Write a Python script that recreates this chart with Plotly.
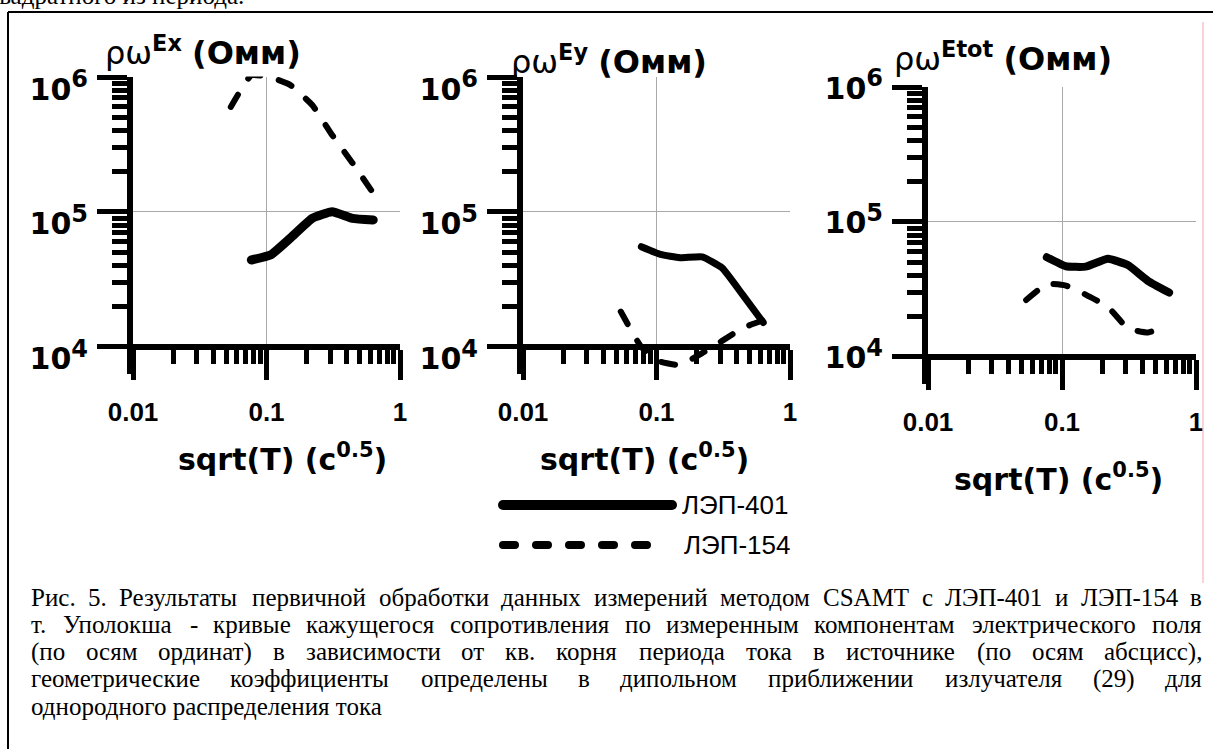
import glob
import struct
import plotly.graph_objects as go

# ---------------------------------------------------------------- data
# square root of the source period, c^0.5
SQRT_T = [0.054, 0.077, 0.107, 0.15, 0.22, 0.31, 0.44, 0.63]

# apparent resistivity, Ohm*m ; ЛЭП-401 curves start at the 2nd period
EX_401 = [44100, 48000, 63800, 89800, 100400, 89800, 87300]
EX_154 = [600000, 1030000, 995000, 875000, 620000, 372000, 231000, 138000]
EY_401 = [55300, 48500, 45800, 46500, 38500, 24500, 15200]
EY_154 = [18300, 10000, 7780, 7360, 9000, 11100, 13800, 15800]
ETOT_401 = [54800, 47000, 46700, 53500, 48000, 36500, 30000]
ETOT_154 = [26400, 34700, 33800, 29000, 23500, 16300, 15200, 17300]

SERIES_NAMES = ["ЛЭП-401", "ЛЭП-154"]
PANEL_TITLES = [
    "ρω<sup><b>Ex</b></sup> <b>(Омм)</b>",
    "ρω<sup><b>Ey</b></sup> <b>(Омм)</b>",
    "ρω<sup><b>Etot</b></sup> <b>(Омм)</b>",
]
X_TITLE = "<b>sqrt(T) (c<sup>0.5</sup>)</b>"

X_TICKS = [0.01, 0.1, 1]
X_TICK_TEXT = ["0.01", "0.1", "1"]
X_MINOR = [m * d for d in (0.01, 0.1) for m in range(2, 10)]
Y_TICKS = [1e4, 1e5, 1e6]
Y_TICK_TEXT = [
    '10<sup><span style="font-size:24px">4</span></sup>',
    '10<sup><span style="font-size:24px">5</span></sup>',
    '10<sup><span style="font-size:24px">6</span></sup>',
]
Y_MINOR = [m * d for d in (1e4, 1e5) for m in range(2, 10)]

CAPTION_LINES = [
    "Рис. 5. Результаты первичной обработки данных измерений методом CSAMT с ЛЭП-401 и ЛЭП-154 в",
    "т. Уполокша - кривые кажущегося сопротивления по измеренным компонентам электрического поля",
    "(по осям ординат) в зависимости от кв. корня периода тока в источнике (по осям абсцисс),",
    "геометрические коэффициенты определены в дипольном приближении излучателя (29) для",
    "однородного распределения тока",
]
PRECEDING_TEXT = "квадратного из периода."

# ---------------------------------------------------------------- layout
W, H = 1213, 749
SANS = "Liberation Sans, Arial, sans-serif"
WIDE = "DejaVu Sans, Verdana, sans-serif"
SERIF = "Liberation Serif, Times New Roman, serif"

# pixel frame of each panel: x of 0.01 and 1, y of 1e6 and 1e4
PANELS = [
    dict(x0=133, x1=400, ytop=77, ybot=347, tx=203, ty=51, xtx=282, xty=457,
         shift=12, solid=9),
    dict(x0=523, x1=790, ytop=77, ybot=347, tx=609, ty=60, xtx=644, xty=457,
         shift=12, solid=7),
    dict(x0=928, x1=1196, ytop=87, ybot=357, tx=1003, ty=57, xtx=1058, xty=477,
         shift=1, solid=8),
]
PANEL_DATA = [(EX_401, EX_154), (EY_401, EY_154), (ETOT_401, ETOT_154)]
Y_LOW, Y_PAD, X_PAD = 0.2, 0.003, 0.003


def px(x):
    return x / W


def py(y):
    return 1 - y / H


def load_font_widths(filename):
    hits = glob.glob("/usr/share/fonts/**/" + filename, recursive=True)
    if not hits:
        return None
    with open(hits[0], "rb") as fh:
        data = fh.read()

    def u16(o):
        return struct.unpack_from(">H", data, o)[0]

    tables = {}
    for i in range(u16(4)):
        rec = 12 + 16 * i
        tables[data[rec:rec + 4].decode("latin-1")] = struct.unpack_from(">I", data, rec + 8)[0]
    units = u16(tables["head"] + 18)
    n_hm = u16(tables["hhea"] + 34)
    advances = [u16(tables["hmtx"] + 4 * i) for i in range(n_hm)]
    cmap = tables["cmap"]
    sub = None
    for i in range(u16(cmap + 2)):
        pid, eid = u16(cmap + 4 + 8 * i), u16(cmap + 6 + 8 * i)
        off = struct.unpack_from(">I", data, cmap + 8 + 8 * i)[0]
        if pid == 3 and eid == 1 and u16(cmap + off) == 4:
            sub = cmap + off
    if sub is None:
        return None
    seg2 = u16(sub + 6)
    ends = sub + 14
    starts = ends + seg2 + 2
    deltas = starts + seg2
    ranges = deltas + seg2

    def glyph(code):
        for i in range(seg2 // 2):
            if code <= u16(ends + 2 * i):
                start = u16(starts + 2 * i)
                if code < start:
                    return 0
                delta = u16(deltas + 2 * i)
                ro = u16(ranges + 2 * i)
                if ro == 0:
                    return (code + delta) & 0xFFFF
                g = u16(ranges + 2 * i + ro + 2 * (code - start))
                return (g + delta) & 0xFFFF if g else 0
        return 0

    def width(text, size):
        return sum(advances[min(glyph(ord(c)), n_hm - 1)] for c in text) * size / units

    return width


def approx_width(text, size):
    total = 0.0
    for c in text:
        if c in " .,-()":
            total += 0.27
        elif c.isupper():
            total += 0.68
        else:
            total += 0.49
    return total * size


try:
    serif_width = load_font_widths("LiberationSerif-Regular.ttf") or approx_width
except Exception:
    serif_width = approx_width

fig = go.Figure()

solid_line = dict(color="black", shape="spline", smoothing=0.4)
dashed_line = dict(color="black", width=6, dash="14px,19px", shape="spline", smoothing=0.4)

for i, (p, (s401, s154)) in enumerate(zip(PANELS, PANEL_DATA)):
    k = "" if i == 0 else str(i + 1)
    xdec = (p["x1"] - p["x0"]) / 2
    ydec = (p["ybot"] - p["ytop"]) / 2
    fig.add_trace(go.Scatter(x=SQRT_T[1:], y=s401, mode="lines", name=SERIES_NAMES[0],
                             line=dict(solid_line, width=p["solid"]),
                             xaxis="x" + k, yaxis="y" + k, showlegend=False))
    fig.add_trace(go.Scatter(x=SQRT_T, y=s154, mode="lines", name=SERIES_NAMES[1],
                             line=dashed_line, xaxis="x" + k, yaxis="y" + k,
                             showlegend=False))
    fig.update_layout(**{
        "xaxis" + k: dict(
            type="log", range=[-2, X_PAD], automargin=False,
            domain=[px(p["x0"]), px(p["x1"] + X_PAD * xdec)],
            anchor="free", position=py(p["ybot"]),
            showline=True, linewidth=6, linecolor="black",
            ticks="outside", ticklen=30, tickwidth=5, tickcolor="black",
            tickmode="array", tickvals=X_TICKS, ticktext=X_TICK_TEXT,
            tickfont=dict(family=SANS, size=26, color="black", weight="bold"),
            ticklabelstandoff=10,
            showgrid=True, gridcolor="#a9a9a9", gridwidth=1, zeroline=False,
            minor=dict(tickmode="array", tickvals=X_MINOR, ticks="outside",
                       ticklen=14, tickwidth=5, tickcolor="black", showgrid=False),
        ),
        "yaxis" + k: dict(
            type="log", range=[4 - Y_LOW, 6 + Y_PAD], automargin=False,
            domain=[py(p["ybot"] + Y_LOW * ydec), py(p["ytop"] - Y_PAD * ydec)],
            anchor="x" + k,
            showline=True, linewidth=6, linecolor="black",
            ticks="outside", ticklen=30, tickwidth=5, tickcolor="black",
            tickmode="array", tickvals=Y_TICKS, ticktext=Y_TICK_TEXT,
            tickfont=dict(family=WIDE, size=30, color="black", weight="bold"),
            ticklabelstandoff=3, ticklabelshift=p["shift"],
            showgrid=True, gridcolor="#a9a9a9", gridwidth=1, zeroline=False,
            minor=dict(tickmode="array", tickvals=Y_MINOR, ticks="outside",
                       ticklen=15, tickwidth=5, tickcolor="black", showgrid=False),
        ),
    })
    fig.add_annotation(text=PANEL_TITLES[i], x=px(p["tx"]), y=py(p["ty"]),
                       xref="paper", yref="paper", xanchor="center", yanchor="middle",
                       showarrow=False, font=dict(family=WIDE, size=32, color="black"))
    fig.add_annotation(text=X_TITLE, x=px(p["xtx"]), y=py(p["xty"]),
                       xref="paper", yref="paper", xanchor="center", yanchor="middle",
                       showarrow=False, font=dict(family=WIDE, size=30, color="black"))

# legend swatches drawn on a small hidden axis pair
fig.add_trace(go.Scatter(x=[0, 1], y=[1, 1], mode="lines", name=SERIES_NAMES[0],
                         line=dict(color="black", width=10), xaxis="x4", yaxis="y4",
                         showlegend=False, hoverinfo="skip"))
fig.add_trace(go.Scatter(x=[0, 0.89], y=[0, 0], mode="lines", name=SERIES_NAMES[1],
                         line=dict(color="black", width=8, dash="12px,21px"),
                         xaxis="x4", yaxis="y4", showlegend=False, hoverinfo="skip"))
LEG_X0, LEG_X1, LEG_Y0, LEG_Y1 = 503, 672, 505, 545
lx = (LEG_X1 - LEG_X0)
ly = (LEG_Y1 - LEG_Y0)
fig.update_layout(
    xaxis4=dict(visible=False, range=[-8 / lx, 1 + 8 / lx], automargin=False,
                domain=[px(LEG_X0 - 8), px(LEG_X1 + 8)], anchor="y4"),
    yaxis4=dict(visible=False, range=[-15 / ly, 1 + 15 / ly], automargin=False,
                domain=[py(LEG_Y1 + 15), py(LEG_Y0 - 15)], anchor="x4"),
)
for name, lxp, lyp in [(SERIES_NAMES[0], 682, LEG_Y0), (SERIES_NAMES[1], 684, LEG_Y1)]:
    fig.add_annotation(text=name, x=px(lxp), y=py(lyp), xref="paper", yref="paper",
                       xanchor="left", yanchor="middle", showarrow=False,
                       borderpad=0, borderwidth=0,
                       font=dict(family=SANS, size=26, color="black"))

# caption, justified between the frame margins
CAP_SIZE = 25
CAP_LEFT, CAP_RIGHT = 31, 1202
CAP_Y0, CAP_STEP = 597, 27.3
for li, line in enumerate(CAPTION_LINES):
    yc = py(CAP_Y0 + li * CAP_STEP)
    words = line.split(" ")
    if li == len(CAPTION_LINES) - 1 or len(words) < 2:
        fig.add_annotation(text=line, x=px(CAP_LEFT), y=yc, xref="paper", yref="paper",
                           xanchor="left", yanchor="middle", showarrow=False,
                           borderpad=0, borderwidth=0,
                           font=dict(family=SERIF, size=CAP_SIZE, color="black"))
        continue
    widths = [serif_width(w, CAP_SIZE) for w in words]
    gap = (CAP_RIGHT - CAP_LEFT - sum(widths)) / (len(words) - 1)
    xpos = CAP_LEFT
    for w, wd in zip(words, widths):
        fig.add_annotation(text=w, x=px(xpos), y=yc, xref="paper", yref="paper",
                           xanchor="left", yanchor="middle", showarrow=False,
                           borderpad=0, borderwidth=0,
                           font=dict(family=SERIF, size=CAP_SIZE, color="black"))
        xpos += wd + gap

# tail of the preceding paragraph, above the frame
fig.add_annotation(text=PRECEDING_TEXT, x=px(-13), y=py(9), xref="paper", yref="paper",
                   xanchor="left", yanchor="bottom", showarrow=False,
                   borderpad=0, borderwidth=0,
                   font=dict(family=SERIF, size=CAP_SIZE, color="black"))

# figure frame
fig.add_shape(type="line", xref="paper", yref="paper", x0=px(8), x1=px(W + 2),
              y0=py(12), y1=py(12), line=dict(color="black", width=2))
fig.add_shape(type="line", xref="paper", yref="paper", x0=px(8), x1=px(8),
              y0=py(12), y1=py(H + 2), line=dict(color="black", width=2))
fig.add_shape(type="line", xref="paper", yref="paper", x0=px(1203), x1=px(1203),
              y0=py(22), y1=py(583), line=dict(color="#f4a9a9", width=1))

fig.update_layout(
    width=W, height=H,
    margin=dict(l=0, r=0, t=0, b=0, pad=0, autoexpand=False),
    paper_bgcolor="white", plot_bgcolor="white",
    showlegend=False,
)

ROUND_CAPS = (
    "var s=document.createElement('style');"
    "s.textContent='.scatterlayer .js-line{stroke-linecap:round;stroke-linejoin:round}';"
    "document.head.appendChild(s);"
)
fig.write_html("out.html", post_script=ROUND_CAPS, config={"displayModeBar": False})
